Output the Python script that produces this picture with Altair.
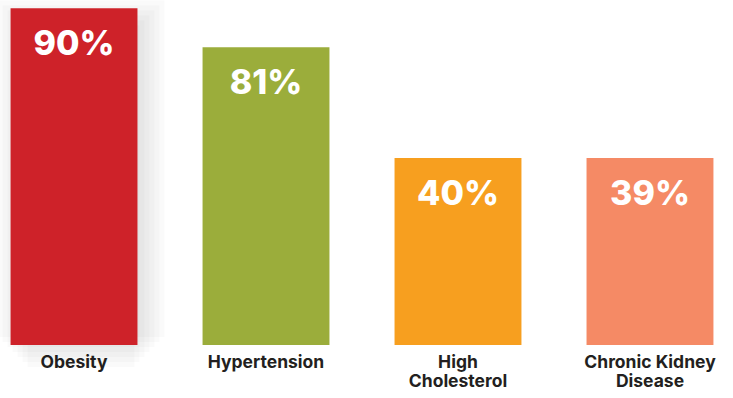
import altair as alt
import pandas as pd

categories = ["Obesity", "Hypertension", "High Cholesterol", "Chronic Kidney Disease"]
percent_values = [90, 81, 40, 39]
# drawn bar lengths (same percent units as the tallest bar)
bar_lengths = [90, 79.6, 50, 50]
colors = ["#CE2229", "#9BAD3B", "#F79F1F", "#F58A65"]

df = pd.DataFrame({
    "category": categories,
    "value": percent_values,
    "length": bar_lengths,
    "color": colors,
})
df["label"] = df["value"].astype(str) + "%"

font = "Inter"

x = alt.X(
    "category:N",
    sort=categories,
    scale=alt.Scale(paddingInner=0.339, paddingOuter=0.055),
    axis=alt.Axis(
        title=None, domain=False, ticks=False, labelAngle=0,
        labelFont=font, labelFontSize=17.5, labelFontWeight=700,
        labelColor="#231F20", labelPadding=8, labelLineHeight=19,
        labelBaseline="top",
        labelExpr="datum.label == 'High Cholesterol' ? ['High', 'Cholesterol'] : "
                  "datum.label == 'Chronic Kidney Disease' ? ['Chronic Kidney', 'Disease'] : datum.label",
    ),
)
y = alt.Y("length:Q", scale=alt.Scale(domain=[0, 92.2], nice=False), axis=None)

base = alt.Chart(df).encode(x=x)

# soft drop shadow behind the highlighted bar: stacked translucent layers
band_px = 127.0
shadow_src = base.transform_filter(alt.datum.category == "Obesity")
shadows = [
    shadow_src.mark_bar(
        color="#000000", fillOpacity=0.019,
        width=alt.RelativeBandSize((band_px + 2 * e) / band_px),
        xOffset=7, yOffset=12 - e, y2Offset=12 + e,
    ).encode(y=y)
    for e in [-10, -5, 0, 5, 10, 15, 20]
]

bars = base.mark_bar().encode(
    y=y,
    color=alt.Color("color:N", scale=None, legend=None),
)

labels = base.mark_text(
    font=font, fontSize=34, fontWeight=800, color="white",
    baseline="alphabetic", dy=47,
).encode(y=y, text="label:N")

chart = alt.layer(*shadows, bars, labels).properties(
    width=724, height=345,
    background="white",
    autosize=alt.AutoSizeParams(type="none"),
    padding={"left": 0, "top": 0, "right": 9, "bottom": 53},
).configure_view(strokeWidth=0, stroke="transparent")

chart.save("out.html", embed_options={"renderer": "svg", "actions": False})
